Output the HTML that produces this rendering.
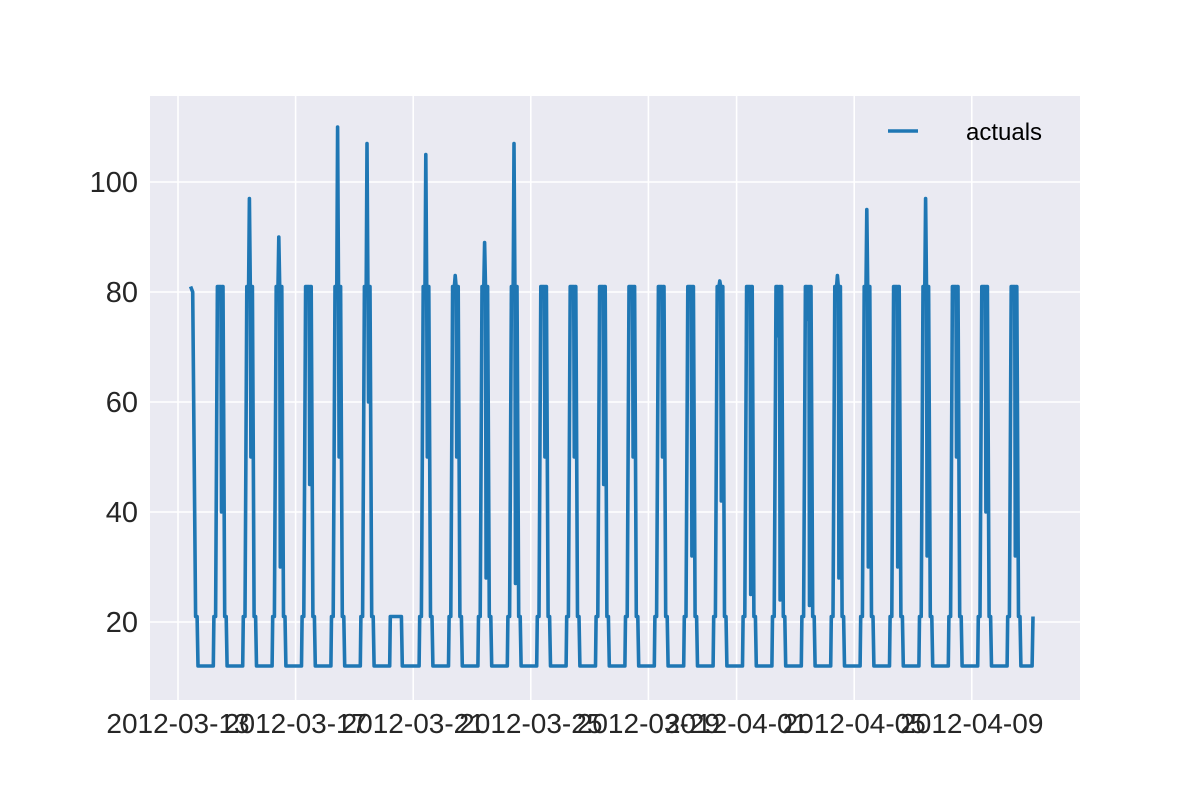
<!DOCTYPE html>
<html><head><meta charset="utf-8"><style>
html,body{margin:0;padding:0;background:#fff;}
svg{display:block;font-family:"Liberation Sans",sans-serif;}
</style></head><body>
<svg id="chart" width="1200" height="800">
<rect x="150" y="96" width="930" height="604" fill="#eaeaf2"/>
<g id="grid"></g><g id="ticks"></g><g id="series"></g>
<g>
<line x1="888" y1="131" x2="918" y2="131" stroke="#1f77b4" stroke-width="3.5"/>
<text x="966" y="140" font-size="24" fill="#000">actuals</text>
</g>
</svg>
<script>
const yTicks=[20,40,60,80,100];
const xTickDays=[0,4,8,12,16,19,23,27];
const xTickLabels=["2012-03-13","2012-03-17","2012-03-21","2012-03-25","2012-03-29","2012-04-01","2012-04-05","2012-04-09"];
const dayPeaks=[81,81,97,90,81,110,107,0,105,83,89,107,81,81,81,81,81,81,82,81,72,75,83,95,81,97,81,81,81];
const dayDips=[81,40,50,30,45,50,60,0,50,50,28,27,50,50,45,50,50,32,42,25,24,23,28,30,30,32,50,40,32];
const dayBase=[12,12,12,12,12,12,12,12,12,12,12,12,12,12,12,12,12,12,12,12,12,12,12,12,12,12,12,12,12];
const ns="http://www.w3.org/2000/svg";
function X(t){return 178+29.4*t;}
function Y(v){return 732-5.5*v;}
const grid=document.getElementById('grid'),ticks=document.getElementById('ticks'),series=document.getElementById('series');
function mk(tag,attrs,parent){const e=document.createElementNS(ns,tag);for(const k in attrs)e.setAttribute(k,attrs[k]);parent.appendChild(e);return e;}
yTicks.forEach(v=>{
 const l=mk('line',{x1:150,x2:1080,y1:Y(v),y2:Y(v),stroke:'#fff','stroke-width':1.6},grid);
 
 
 const t=mk('text',{x:138,y:Y(v)+10,'font-size':29,fill:'#262626','text-anchor':'end'},ticks);
 t.textContent=v;
 
 
});
xTickDays.forEach((d,i)=>{
 const l=mk('line',{x1:X(d),x2:X(d),y1:96,y2:700,stroke:'#fff','stroke-width':1.6},grid);
 
 
 const t=mk('text',{x:X(d),y:733,'font-size':28,fill:'#262626','text-anchor':'middle'},ticks);
 t.textContent=xTickLabels[i];
 
 
});
let pts=[];
dayPeaks.forEach((p,d)=>{
 const b=dayBase[d], q=dayDips[d];
 if(d===0){pts.push([0.43,81],[0.5,80],[0.6,21],[0.65,21],[0.68,b],[1,b]);return;}
 if(p===0){pts.push([d,b],[d+0.2,b],[d+0.22,21],[d+0.6,21],[d+0.63,b],[d+1,b]);return;}
 const tmpl=[[0,b],[0.2,b],[0.22,21],[0.28,21],[0.31,50],[0.34,81],[0.4,81],[0.43,p],[0.46,81],[0.48,q],[0.5,81],[0.53,81],[0.56,50],[0.59,21],[0.64,21],[0.67,b],[1,b]];
 tmpl.forEach(r=>pts.push([d+r[0],r[1]]));
});
pts.push([29.05,12],[29.08,21]);
const path=mk('polyline',{points:pts.map(p=>X(p[0]).toFixed(1)+','+Y(p[1]).toFixed(1)).join(' '),fill:'none',stroke:'#1f77b4','stroke-width':3.6,'stroke-linejoin':'round'},series);


</script>
</body></html>
